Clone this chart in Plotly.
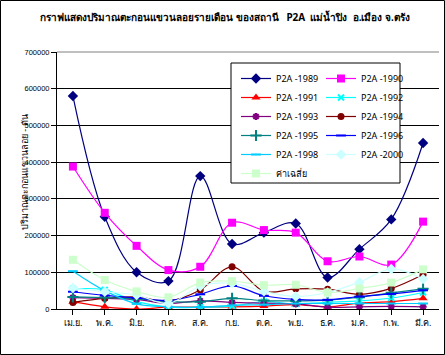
import plotly.graph_objects as go

months = ["เม.ย.", "พ.ค.", "มิ.ย.", "ก.ค.", "ส.ค.", "ก.ย.", "ต.ค.", "พ.ย.", "ธ.ค.", "ม.ค.", "ก.พ.", "มี.ค."]

y1989 = [580000, 251000, 100000, 76000, 362000, 177000, 208000, 233000, 86000, 163000, 244000, 452000]
y1990 = [388000, 262000, 172000, 106000, 115000, 235000, 215000, 208000, 130000, 143000, 121000, 238000]
y1991 = [20000, 6000, 0, 5000, 5000, 6000, 8000, 12000, 6000, 16000, 20000, 29000]
y1992 = [55000, 52000, 20000, 5000, 5000, 8000, 20000, 14000, 18000, 22000, 30000, 45000]
y1993 = [31000, 29000, 26000, 15000, 22000, 18000, 16000, 14000, 5000, 6000, 7000, 6000]
y1994 = [18000, 29000, 33000, 22000, 52000, 115000, 48000, 55000, 54000, 40000, 56000, 94000]
y1995 = [33000, 31000, 28000, 20000, 20000, 29000, 23000, 22000, 24000, 32000, 44000, 55000]
y1996 = [47000, 37000, 30000, 23000, 40000, 63000, 36000, 26000, 25000, 34000, 41000, 51000]
y1998 = [103000, 50000, 14000, 6000, 5000, 10000, 12000, 15000, 15000, 15000, 15000, 15000]
y2000 = [57000, 47000, 38000, 15000, 62000, 70000, 48000, 34000, 45000, 73000, 109000, 82000]
yavg = [134000, 79000, 48000, 32000, 72000, 76000, 65000, 66000, 45000, 56000, 72000, 108000]

FONT = "Noto Sans, Tahoma, sans-serif"

series = [
    ("P2A -1989", y1989, "#000080", "diamond", 8, "legend"),
    ("P2A -1990", y1990, "#FF00FF", "square", 8, "legend2"),
    ("P2A -1991", y1991, "#FF0000", "triangle-up", 8, "legend"),
    ("P2A -1992", y1992, "#00FFFF", "x-thin-open", 6, "legend2"),
    ("P2A -1993", y1993, "#800080", "asterisk-open", 6, "legend"),
    ("P2A -1994", y1994, "#800000", "circle", 7, "legend2"),
    ("P2A -1995", y1995, "#008080", "cross-thin-open", 8, "legend"),
    ("P2A -1996", y1996, "#0000FF", "line-ew-open", 7, "legend2"),
    ("P2A -1998", y1998, "#00CCFF", "line-ew-open", 7, "legend"),
    ("P2A -2000", y2000, "#CCFFFF", "diamond", 8, "legend2"),
    ("ค่าเฉลี่ย", yavg, "#CCFFCC", "square", 8, "legend"),
]

fig = go.Figure()
for name, ys, col, sym, sz, leg in series:
    open_sym = sym.endswith("open")
    fig.add_trace(go.Scatter(
        x=list(range(len(months))), y=ys, name=name, mode="lines+markers",
        line=dict(color=col, width=1.2, shape="spline", smoothing=1.0),
        marker=dict(symbol=sym, size=sz, color=col,
                    line=dict(color=col, width=2 if open_sym else 0)),
        legend=leg,
    ))

W, H = 445, 355
L, R, T, B = 57, 6, 52, 46
pw, ph = W - L - R, H - T - B

def px_x(px):
    return (px - L) / pw

def px_y(py):
    return (H - B - py) / ph

shapes = [
    # legend box (data coords so it sits above gridlines, below traces)
    dict(type="rect", xref="paper", yref="paper",
         x0=px_x(231), x1=px_x(400), y0=px_y(183), y1=px_y(63),
         line=dict(color="black", width=1), fillcolor="white", layer="above"),
    # top plot border in gray
    dict(type="line", xref="paper", yref="paper", x0=0, x1=1, y0=1, y1=1,
         line=dict(color="#808080", width=1)),
    # outer chart border
    dict(type="rect", xref="paper", yref="paper",
         x0=px_x(0.5), x1=px_x(444.5), y0=px_y(354.5), y1=px_y(0.5),
         line=dict(color="black", width=1)),
]

fig.update_layout(
    width=W, height=H,
    margin=dict(l=L, r=R, t=T, b=B),
    paper_bgcolor="white", plot_bgcolor="white",
    font=dict(family=FONT, color="black", size=9),
    showlegend=True,
    legend=dict(x=px_x(236), y=px_y(64), xanchor="left", yanchor="top",
                bgcolor="rgba(0,0,0,0)", borderwidth=0, itemwidth=30,
                font=dict(family=FONT, size=9, color="black"),
                tracegroupgap=0),
    legend2=dict(x=px_x(321), y=px_y(64), xanchor="left", yanchor="top",
                 bgcolor="rgba(0,0,0,0)", borderwidth=0, itemwidth=30,
                 font=dict(family=FONT, size=9, color="black"),
                 tracegroupgap=0),
    shapes=shapes,
    annotations=[
        dict(text="<b>กราฟแสดงปริมาณตะกอนแขวนลอยรายเดือน ของสถานี   P2A  แม่น้ำปิง  อ.เมือง จ.ตรัง</b>",
             xref="paper", yref="paper", x=px_x(225), y=px_y(17),
             xanchor="center", yanchor="middle", showarrow=False,
             font=dict(family=FONT, size=10, color="black")),
        dict(text="ปริมาณตะกอนแขวนลอย - ตัน", textangle=-90,
             xref="paper", yref="paper", x=px_x(24), y=px_y(172),
             xanchor="center", yanchor="middle", showarrow=False,
             font=dict(family=FONT, size=9, color="black")),
    ],
)

fig.update_xaxes(
    tickmode="array", tickvals=list(range(len(months))), ticktext=months,
    range=[-0.5, len(months) - 0.5],
    showline=True, linecolor="black", linewidth=1,
    ticks="outside", ticklen=5, tickcolor="black", tickson="boundaries",
    showgrid=False, zeroline=False,
    tickfont=dict(family=FONT, size=9, color="black"),
)
fig.update_yaxes(
    range=[0, 700000], dtick=100000, tickformat="d",
    showline=True, linecolor="black", linewidth=1,
    ticks="outside", ticklen=5, tickcolor="black",
    showgrid=True, gridcolor="black", gridwidth=1, zeroline=False,
    tickfont=dict(family="Liberation Sans", size=7.5, color="black"),
)

fig.write_html("out.html")
